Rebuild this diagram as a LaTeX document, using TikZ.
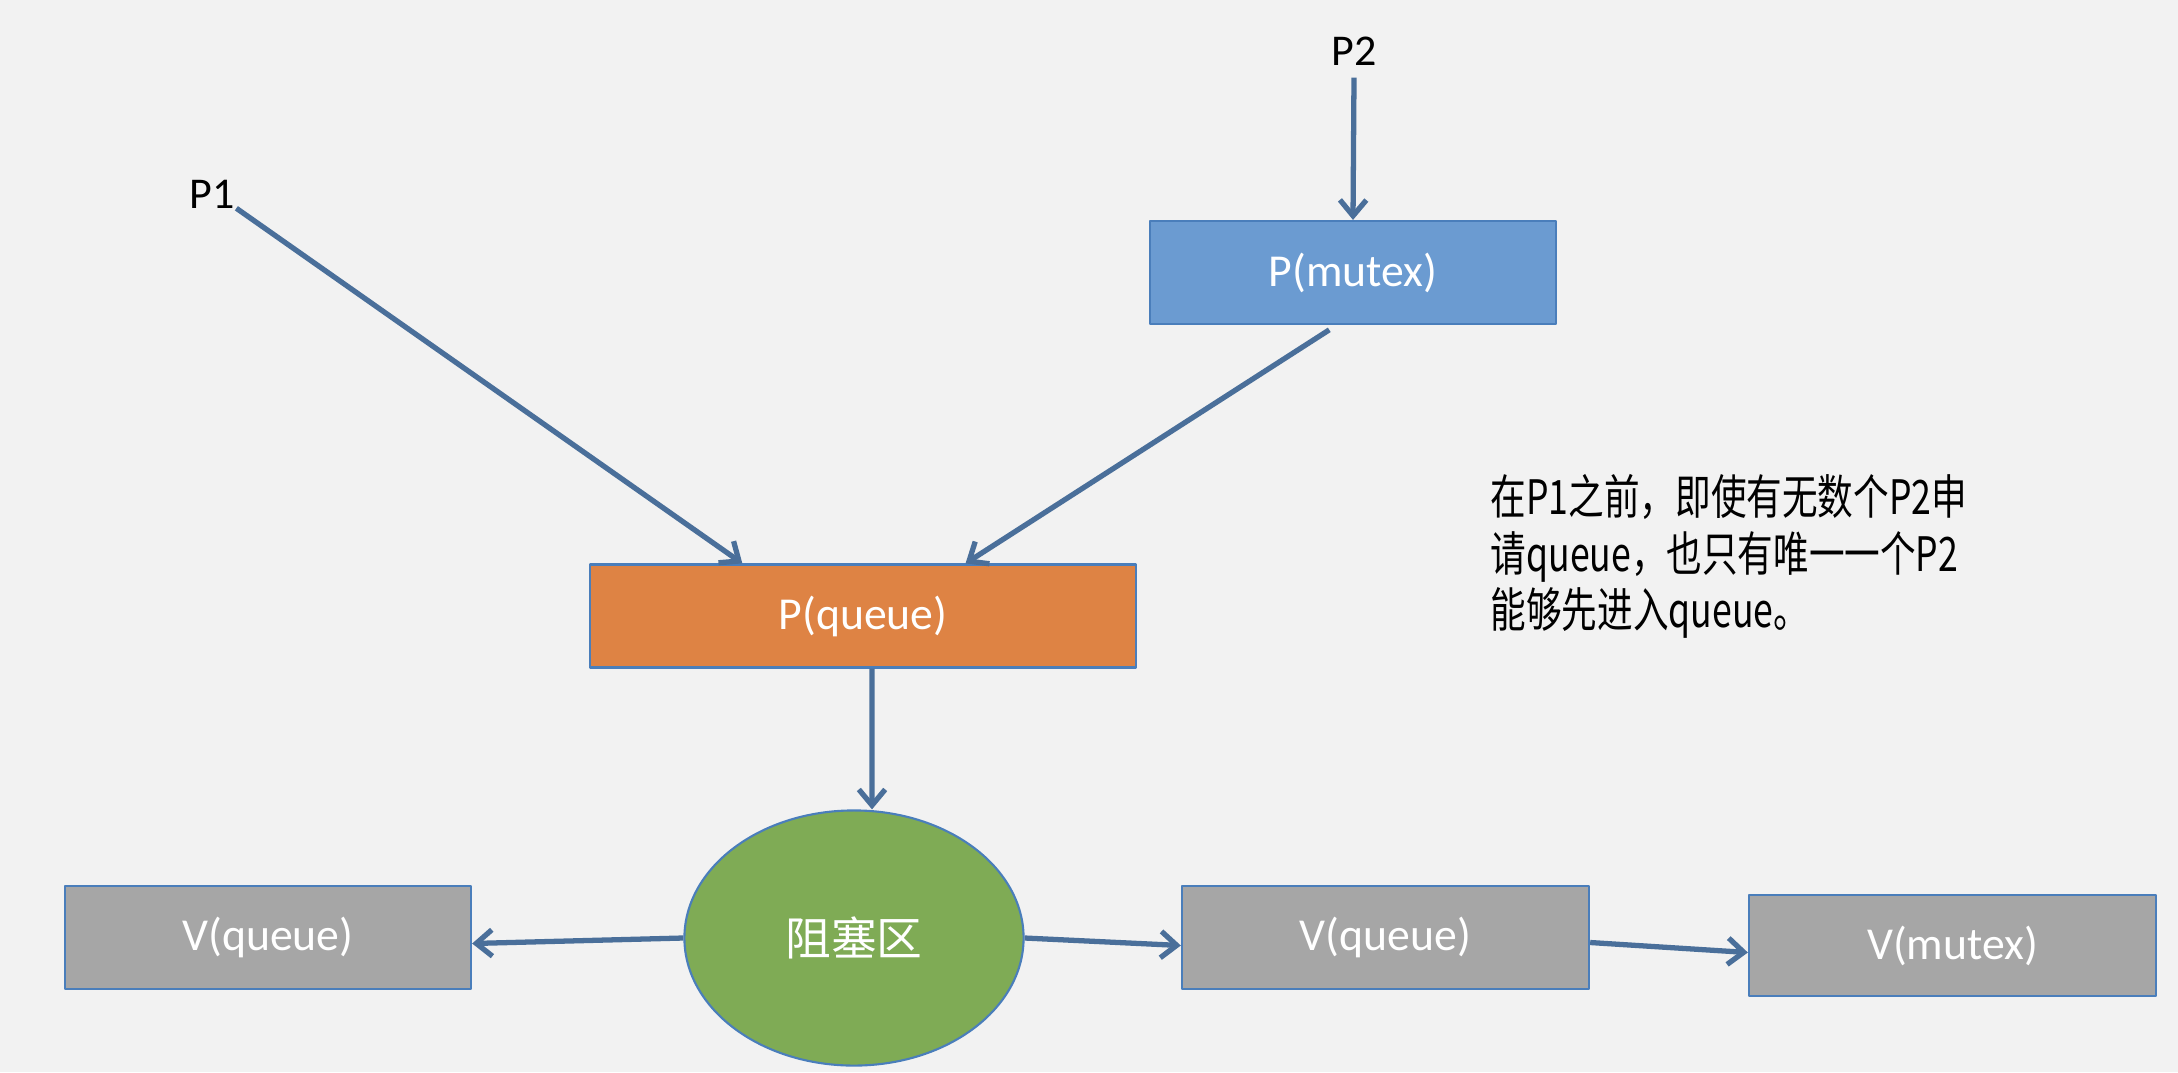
\documentclass[tikz,border=0pt]{standalone}
\usepackage{fontspec}
\setmainfont{Carlito}
\newfontfamily\cjk{Noto Sans CJK SC}
\newfontfamily\cjknarrow[FakeStretch=0.75]{Noto Sans CJK SC}
\usetikzlibrary{arrows.meta,shapes.geometric,calc}
\definecolor{bgcol}{HTML}{F2F2F2}
\definecolor{arrowcol}{HTML}{4A6F9A}
\definecolor{edgecol}{HTML}{4A7EBB}
\definecolor{mutexcol}{HTML}{6B9BD1}
\definecolor{queuecol}{HTML}{DE8344}
\definecolor{blockcol}{HTML}{7FAB55}
\definecolor{vcol}{HTML}{A6A6A6}
\begin{document}
\begin{tikzpicture}[x=0.01cm,y=-0.01cm,line join=bevel,
  conn/.style={draw=arrowcol,line width=1.5pt,-{Straight Barb[length=4.5pt,width=7.5pt]}},
  box/.style={draw=edgecol,line width=0.6pt,minimum height=1.03cm,inner sep=0pt,
    text=white,font=\fontsize{13}{15}\selectfont},
  lbl/.style={font=\fontsize{12.5}{15}\selectfont,text=black}]
%%
\fill [bgcol] (0,0) rectangle (2178,1072);
\useasboundingbox (0,0) rectangle (2178,1072);
%%
\node (node_p1) at (212,194) [lbl] {P1};
  \node (node_p2) at (1354,51) [lbl] {P2};
  \node (node_pmutex) at (1353,272.5) [box,fill=mutexcol,minimum width=4.06cm] {P(mutex)};
  \node (node_pqueue) at (863,616) [box,fill=queuecol,minimum width=5.46cm] {P(queue)};
  \node (node_block) at (854,938) [ellipse,draw=edgecol,line width=0.6pt,fill=blockcol,
    minimum width=3.39cm,minimum height=2.55cm,inner sep=0pt,text=white,
    font=\cjk\fontsize{13}{15}\selectfont] {阻塞区};
  \node (node_vq1) at (268,937.5) [box,fill=vcol,minimum width=4.06cm] {V(queue)};
  \node (node_vq2) at (1385.5,937.5) [box,fill=vcol,minimum width=4.07cm] {V(queue)};
  \node (node_vmutex) at (1952.5,945.5) [box,fill=vcol,minimum width=4.07cm,minimum height=1.01cm] {V(mutex)};
  \node (node_note) at (1490,474) [anchor=north west,inner sep=0pt,align=left,
    font=\cjknarrow\fontsize{13.5}{16}\selectfont] {在P1之前，即使有无数个P2申\\请queue，也只有唯一一个P2\\能够先进入queue。};
  \draw [conn] ([xshift=-3pt,yshift=3.5pt]node_p1.south east) -- ($(node_pqueue.north west)!0.28!(node_pqueue.north east)$);
  \draw [conn] (node_p2.south) -- (node_pmutex.north);
  \draw [conn,shorten <=2.5pt] ($(node_pmutex.south west)!0.46!(node_pmutex.south east)$) -- ($(node_pqueue.north west)!0.687!(node_pqueue.north east)$);
  \draw [conn] ([xshift=0.09cm]node_pqueue.south) -- ([xshift=0.18cm]node_block.north);
  \draw [conn] (node_block.west) -- ([yshift=-0.06cm]node_vq1.east);
  \draw [conn] (node_block.east) -- ([yshift=-0.08cm]node_vq2.west);
  \draw [conn] ([yshift=-0.05cm]node_vq2.east) -- ([yshift=-0.07cm]node_vmutex.west);
%
\end{tikzpicture}
\end{document}
